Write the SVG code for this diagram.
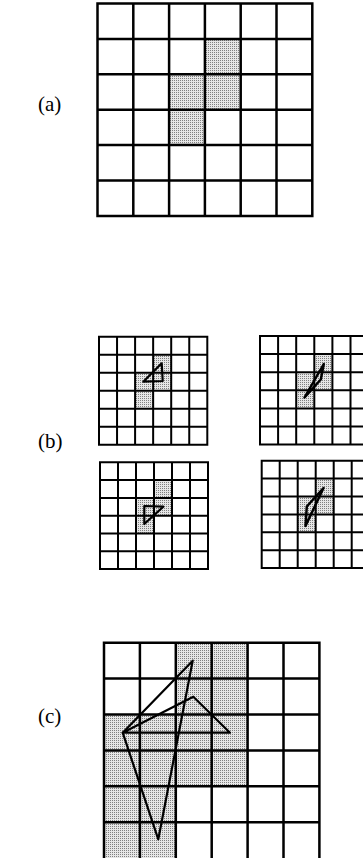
<svg xmlns="http://www.w3.org/2000/svg" width="363" height="858" viewBox="0 0 363 858">
<defs>
<pattern id="stip" width="2" height="2" patternUnits="userSpaceOnUse">
<rect width="2" height="2" fill="#e6e6e6"/>
<rect width="1" height="1" fill="#808080"/>
</pattern>
<style>
.sh{fill:url(#stip);stroke:none}
.gl{fill:none;stroke:#000;stroke-width:2.5;stroke-linecap:square}
.gs{fill:none;stroke:#000;stroke-width:2;stroke-linecap:square}
.tri{fill:none;stroke:#000;stroke-width:2.2;stroke-linejoin:round}
.sl{fill:none;stroke:#000;stroke-width:2.5;stroke-linejoin:round}
.lab{font-family:"Liberation Serif","Times New Roman",serif;font-size:21px;fill:#000}
</style>
</defs>
<rect width="363" height="858" fill="#fff"/>

<g id="panel-a">
<rect class="sh" x="204.9" y="38.9" width="35.8" height="35.4"/>
<rect class="sh" x="169.1" y="74.3" width="71.6" height="35.4"/>
<rect class="sh" x="169.1" y="109.7" width="35.8" height="35.4"/>
<path class="gl" d="M97.5 3.5V215.9M133.3 3.5V215.9M169.1 3.5V215.9M204.9 3.5V215.9M240.7 3.5V215.9M276.5 3.5V215.9M312.3 3.5V215.9M97.5 3.5H312.3M97.5 38.9H312.3M97.5 74.3H312.3M97.5 109.7H312.3M97.5 145.1H312.3M97.5 180.5H312.3M97.5 215.9H312.3"/>
<text class="lab" x="38" y="111">(a)</text>
</g>

<g id="panel-b">
<g id="b-tl">
<rect class="sh" x="153.15" y="354.7" width="18.05" height="18"/>
<rect class="sh" x="135.1" y="372.7" width="36.1" height="18"/>
<rect class="sh" x="135.1" y="390.7" width="18.05" height="18"/>
<path class="gs" d="M99 336.7V444.7M117.05 336.7V444.7M135.1 336.7V444.7M153.15 336.7V444.7M171.2 336.7V444.7M189.25 336.7V444.7M207.3 336.7V444.7M99 336.7H207.3M99 354.7H207.3M99 372.7H207.3M99 390.7H207.3M99 408.7H207.3M99 426.7H207.3M99 444.7H207.3"/>
<polygon class="tri" points="161.7,363.3 143.3,381.7 162.7,381"/>
</g>
<g id="b-tr">
<rect class="sh" x="314.3" y="354.1" width="18.1" height="18.1"/>
<rect class="sh" x="296.2" y="372.2" width="36.2" height="18.1"/>
<rect class="sh" x="296.2" y="390.3" width="18.1" height="18.1"/>
<path class="gs" d="M260 336V444.6M278.1 336V444.6M296.2 336V444.6M314.3 336V444.6M332.4 336V444.6M350.5 336V444.6M368.6 336V444.6M260 336H368.6M260 354.1H368.6M260 372.2H368.6M260 390.3H368.6M260 408.4H368.6M260 426.5H368.6M260 444.6H368.6"/>
<polygon class="sl" points="323.8,364 320.8,379.5 304.5,397.5"/>
</g>
<g id="b-bl">
<rect class="sh" x="154" y="480.1" width="18" height="17.8"/>
<rect class="sh" x="136" y="497.9" width="36" height="17.8"/>
<rect class="sh" x="136" y="515.7" width="18" height="17.8"/>
<path class="gs" d="M100 462.3V569.1M118 462.3V569.1M136 462.3V569.1M154 462.3V569.1M172 462.3V569.1M190 462.3V569.1M208 462.3V569.1M100 462.3H208M100 480.1H208M100 497.9H208M100 515.7H208M100 533.5H208M100 551.3H208M100 569.1H208"/>
<polygon class="tri" points="144.3,506 163.3,506.7 144.3,524"/>
</g>
<g id="b-br">
<rect class="sh" x="315.7" y="478.6" width="18" height="17.9"/>
<rect class="sh" x="297.7" y="496.5" width="36" height="17.9"/>
<rect class="sh" x="297.7" y="514.4" width="18" height="17.9"/>
<path class="gs" d="M261.7 460.7V568.1M279.7 460.7V568.1M297.7 460.7V568.1M315.7 460.7V568.1M333.7 460.7V568.1M351.7 460.7V568.1M369.7 460.7V568.1M261.7 460.7H369.7M261.7 478.6H369.7M261.7 496.5H369.7M261.7 514.4H369.7M261.7 532.3H369.7M261.7 550.2H369.7M261.7 568.1H369.7"/>
<polygon class="sl" points="323.5,488 306.8,506.5 305.5,526"/>
</g>
<text class="lab" x="38" y="448">(b)</text>
</g>

<g id="panel-c">
<rect class="sh" x="175.8" y="642.7" width="71.8" height="71.8"/>
<rect class="sh" x="104" y="714.5" width="143.6" height="71.8"/>
<rect class="sh" x="104" y="786.3" width="71.8" height="71.8"/>
<path class="gl" d="M104 642.7V858M139.9 642.7V858M175.8 642.7V858M211.7 642.7V858M247.6 642.7V858M283.5 642.7V858M319.4 642.7V858M104 642.7H319.4M104 678.6H319.4M104 714.5H319.4M104 750.4H319.4M104 786.3H319.4M104 822.2H319.4"/>
<polygon class="tri" points="192.7,660.7 122.7,732.7 158.3,839.3"/>
<polygon class="tri" points="122.7,732.7 193.3,696.7 230,732.7"/>
<text class="lab" x="38" y="723">(c)</text>
</g>
</svg>
